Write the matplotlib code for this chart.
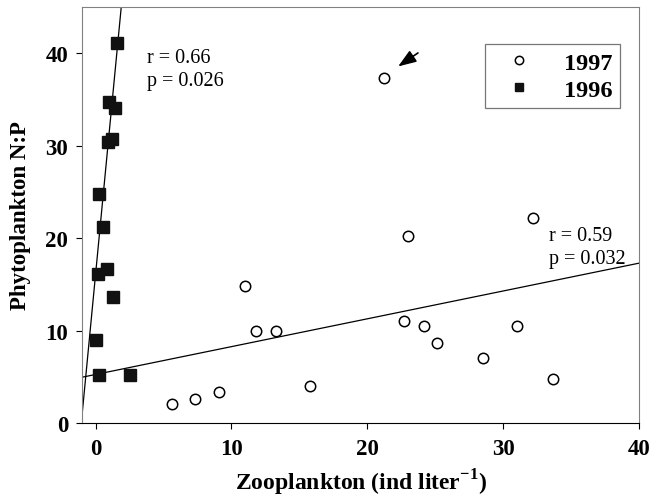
import numpy as np
import matplotlib
matplotlib.use("Agg")
import matplotlib.pyplot as plt

plt.rcParams['font.family'] = ['Liberation Serif', 'DejaVu Serif']
plt.rcParams['mathtext.fontset'] = 'custom'
plt.rcParams['mathtext.rm'] = 'Liberation Serif'
plt.rcParams['mathtext.bf'] = 'Liberation Serif:bold'

# 1996 (filled squares)
zoo_96 = [1.6, 1.0, 1.4, 0.9, 1.2, 0.25, 0.55, 0.85, 0.2, 1.3, 0.0, 0.25, 2.5]
np_96 = [41.1, 34.7, 34.1, 30.4, 30.7, 24.8, 21.2, 16.7, 16.1, 13.6, 9.0, 5.2, 5.2]

# 1997 (open circles)
zoo_97 = [5.6, 7.3, 9.1, 11.0, 11.8, 13.3, 15.8, 21.2, 22.7, 23.0, 24.2, 25.1, 28.5, 31.0, 32.2, 33.7]
np_97 = [2.1, 2.6, 3.3, 14.8, 10.0, 10.0, 4.0, 37.3, 11.0, 20.2, 10.5, 8.7, 7.0, 10.5, 22.2, 4.8]

# regression lines (slope, intercept)
fit_96 = (15.3, 16.1)
fit_97 = (0.301, 5.25)

fig, ax = plt.subplots(figsize=(6.58, 5.02), dpi=100)
fig.subplots_adjust(left=82/658, right=639/658, top=1-8/502, bottom=1-424/502)

xs = np.array([-1, 40])
ax.plot(xs, fit_96[0] * xs + fit_96[1], color='black', lw=0.9)
ax.plot(xs, fit_97[0] * xs + fit_97[1], color='black', lw=0.9)

ax.plot(zoo_97, np_97, 'o', mfc='white', mec='black', mew=1.1, ms=7.5, label='1997', zorder=3)
ax.plot(zoo_96, np_96, 's', mfc='#111111', mec='#111111', ms=8, label='1996', zorder=3)

ax.set_xlim(-1, 40)
ax.set_ylim(0, 45)
ax.set_xticks([0, 10, 20, 30, 40])
ax.set_yticks([0, 10, 20, 30, 40])
ax.tick_params(labelsize=16.5, length=4, width=0.8)
ax.tick_params(axis='x', pad=7)
ax.tick_params(axis='y', pad=6)
for lab in ax.get_xticklabels() + ax.get_yticklabels():
    lab.set_fontweight('bold')

for s in ['left', 'right', 'top']:
    ax.spines[s].set_color('#808080')
ax.spines['bottom'].set_color('black')

ax.set_xlabel('Zooplankton (ind liter$^{\\mathbf{-1}}$)', fontsize=17, fontweight='bold', labelpad=5)
ax.set_ylabel('Phytoplankton N:P', fontsize=16.5, fontweight='bold', labelpad=10)

ax.text(3.8, 40.6, 'r = 0.66\np = 0.026', fontsize=14.5, va='top', linespacing=1.3)
ax.text(33.4, 21.3, 'r = 0.59\np = 0.032', fontsize=14.5, va='top', linespacing=1.3)

ax.annotate('', xy=(22.1, 38.4), xytext=(23.9, 40.2),
            arrowprops=dict(arrowstyle='-|>,head_length=1.1,head_width=0.4', color='black', lw=1.2))

leg = ax.legend(loc='upper right', bbox_to_anchor=(0.965, 0.91), fontsize=17.5, frameon=True,
                fancybox=False, edgecolor='#555555', handletextpad=0.75, borderpad=0.3,
                labelspacing=0.2, borderaxespad=0, handlelength=2.2)
leg.get_frame().set_linewidth(0.9)
for t in leg.get_texts():
    t.set_fontweight('bold')
leg.legend_handles[0].set_markersize(6)
leg.legend_handles[1].set_markersize(6)

fig.savefig('out.png', dpi=100)
